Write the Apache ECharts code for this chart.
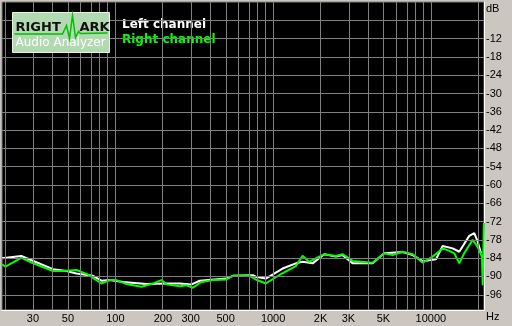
<!DOCTYPE html>
<html><head><meta charset="utf-8">
<script src="https://cdn.jsdelivr.net/npm/echarts@6/dist/echarts.min.js"></script>
<style>html,body{margin:0;padding:0;background:#cbc7c0}#c{width:512px;height:326px}</style>
</head><body><div id="c"></div>
<script>
// Frequencies (Hz) and levels (dB)
const leftFreq = [19.1,25.3,40.2,48.9,56.6,72.1,81.5,92,112,157,211,256,304,343,506,555,743,776,899,1148,1394,1538,1779,2108,2502,2756,3190,4273,5063,6624,7670,8878,10770,11880,13750,15140,17520,18850,19820,20800];
const leftDb   = [-84.0,-83.3,-87.6,-88.2,-89.0,-89.8,-91.4,-91.2,-91.8,-92.5,-92.3,-92.3,-92.6,-91.4,-90.7,-89.8,-89.6,-90.1,-90.7,-87.4,-85.7,-85.2,-85.7,-82.7,-83.5,-83.0,-85.7,-85.7,-82.4,-82.0,-83.0,-85.0,-84.4,-80.0,-80.8,-81.9,-76.7,-75.8,-78.6,-82.4];
const rightFreq = [19.1,20.1,25.3,29.9,40.2,46.3,56.6,66.7,81.5,92,101.5,117.5,146,169,196,211,256,282,310,351,416,506,556,711,776,899,1092,1394,1538,1690,2108,2502,2756,3190,4273,5063,5728,6624,7670,8878,10260,11880,13090,14090,15140,16290,18410,19820,21090,21320,21720];
const rightDb   = [-86.0,-86.8,-83.9,-85.6,-88.2,-88.2,-87.9,-89.3,-92.3,-91.2,-91.2,-92.5,-93.4,-92.5,-91.2,-92.6,-93.2,-92.9,-93.7,-91.8,-91.2,-91.0,-89.8,-89.8,-91.0,-92.3,-89.6,-86.6,-83.2,-85.2,-82.7,-83.3,-82.7,-84.9,-85.5,-82.4,-83.0,-81.9,-82.7,-85.5,-83.5,-80.8,-81.6,-82.4,-85.7,-82.4,-78.0,-80.3,-83.5,-92.9,-72.5];
const gridFreqs = [20,30,40,50,60,70,80,90,100,200,300,400,500,600,700,800,900,1000,2000,3000,4000,5000,6000,7000,8000,9000,10000,20000];
const xTickFreqs = [30,50,100,200,300,500,1000,2000,3000,5000,10000];
const xTickLabels = ['30','50','100','200','300','500','1000','2K','3K','5K','10000'];
const gridDb = [-6,-12,-18,-24,-30,-36,-42,-48,-54,-60,-66,-72,-78,-84,-90,-96];
const yTickDb = [-12,-18,-24,-30,-36,-42,-48,-54,-60,-66,-72,-78,-84,-90,-96];
const freqMin = 19.1, freqMax = 21730, dbMin = -101, dbMax = 0;

const lg = Math.log10;
const toPts = (f, d) => f.map((v, i) => [lg(v), d[i]]);
const labelMap = {};
xTickFreqs.forEach((f, i) => labelMap[Math.round(f)] = xTickLabels[i]);

const chart = echarts.init(document.getElementById('c'), null, {renderer: 'canvas'});
const gridLineStyle = {color: '#808080', width: 1, type: 'solid'};
chart.setOption({
  backgroundColor: '#cbc7c0',
  animation: false,
  grid: {left: 2, top: 2, right: 28, bottom: 16, show: true, backgroundColor: '#000', borderColor: '#808080', borderWidth: 1},
  legend: {
    orient: 'vertical', left: 112, top: 14, itemWidth: 0, itemHeight: 12, itemGap: 3, selectedMode: false,
    icon: 'rect', itemStyle: {opacity: 0}, lineStyle: {opacity: 0},
    textStyle: {fontFamily: 'DejaVu Sans', fontSize: 12, fontWeight: 'bold'},
    data: [{name: 'Left channel', textStyle: {color: '#ffffff'}}, {name: 'Right channel', textStyle: {color: '#00ff00'}}]
  },
  xAxis: {
    type: 'value', min: lg(freqMin), max: lg(freqMax),
    axisLine: {show: true, onZero: false, lineStyle: {color: '#ffffff', width: 1}},
    axisTick: {show: false}, splitLine: {show: false},
    axisLabel: {
      customValues: xTickFreqs.map(lg), margin: 3, color: '#000', fontFamily: 'Liberation Sans', fontSize: 11,
      formatter: v => labelMap[Math.round(Math.pow(10, v))] || ''
    }
  },
  yAxis: {
    type: 'value', position: 'right', min: dbMin, max: dbMax,
    axisLine: {show: true, lineStyle: {color: '#ffffff', width: 1}},
    axisTick: {show: false}, splitLine: {show: false},
    axisLabel: {customValues: yTickDb, margin: 2, color: '#000', fontFamily: 'Liberation Sans', fontSize: 11}
  },
  graphic: [
    {type: 'text', left: 486, top: 3, style: {text: 'dB', fill: '#000', font: '11px "Liberation Sans"'}},
    {type: 'text', left: 486, top: 311, style: {text: 'Hz', fill: '#000', font: '11px "Liberation Sans"'}},
    {type: 'group', left: 12, top: 12, z: 100, children: [
      {type: 'rect', z: 100, shape: {x: 0, y: 0, width: 97, height: 40}, style: {fill: '#b3d9b3', stroke: '#e8f4e8', lineWidth: 1}},
      {type: 'text', z: 101, x: 3, y: 9, style: {text: 'RIGHT', fill: '#111', font: 'bold 13px "DejaVu Sans"'}},
      {type: 'text', z: 101, x: 67, y: 9, style: {text: 'ARK', fill: '#111', font: 'bold 13px "DejaVu Sans"'}},
      {type: 'polyline', z: 101, shape: {points: [[2,21.5],[50,21.5],[54,13],[57,26],[60,3],[63,25],[66,19],[68,21],[95,20.5]]}, style: {stroke: '#00c000', lineWidth: 1.5, fill: null}},
      {type: 'text', z: 101, x: 3, y: 24, style: {text: 'Audio Analyzer', fill: '#ffffff', font: '12px "DejaVu Sans"'}}
    ]}
  ],
  series: [
    {name: 'Left channel', type: 'line', data: toPts(leftFreq, leftDb), symbol: 'none', color: '#ffffff',
      lineStyle: {color: '#ffffff', width: 2}, z: 3,
      markLine: {silent: true, symbol: 'none', animation: false, label: {show: false}, lineStyle: gridLineStyle,
        data: gridFreqs.map(f => ({xAxis: lg(f)})).concat(gridDb.map(d => ({yAxis: d})))}},
    {name: 'Right channel', type: 'line', data: toPts(rightFreq, rightDb), symbol: 'none', color: '#00ff00',
      lineStyle: {color: '#00ff00', width: 2}, z: 4}
  ]
});
</script></body></html>
